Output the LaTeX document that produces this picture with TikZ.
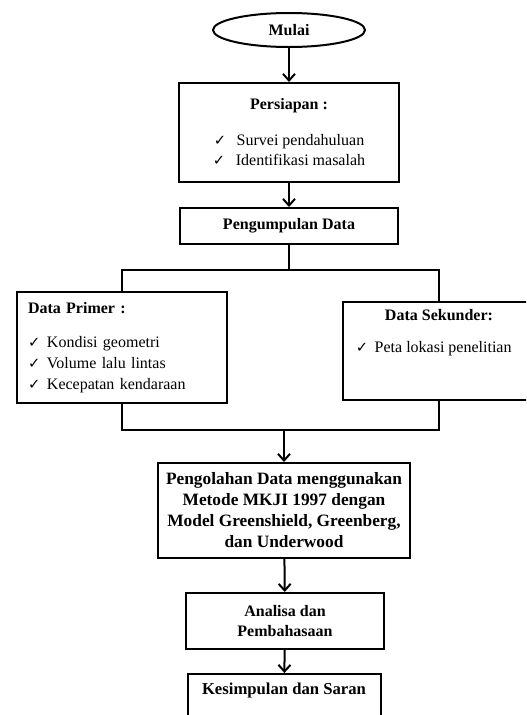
\documentclass[tikz,border=0pt]{standalone}
\usepackage{fontspec}
\setmainfont{Liberation Serif}
\newfontfamily\ckfont{DejaVu Sans}
\usetikzlibrary{shapes.geometric,arrows.meta}

\newcommand{\ck}{{\ckfont\fontsize{11}{11}\selectfont ✓}}

\tikzset{
    box/.style={draw, line width=1.5pt, align=center, inner sep=0pt,
        font=\fontsize{12}{15.5}\selectfont},
    con/.style={line width=1.5pt},
    arr/.style={line width=1.5pt, -{Straight Barb[length=5pt,width=9pt]}},
}

\begin{document}
\begin{tikzpicture}[x=0.75pt,y=-0.75pt]
        \useasboundingbox (0,0) rectangle (526,715);
        \clip (0,0) rectangle (526,715);

        \node[box, ellipse, minimum width=114pt, minimum height=25.5pt] (mulai) at (289,30) {\textbf{Mulai}};
        \node[box, minimum width=165pt, minimum height=74.25pt] (persiapan) at (289,132.5)
            {\textbf{Persiapan :}\\[11pt]
             \ck\hspace{8pt}Survei pendahuluan\\
             \ck\hspace{8pt}Identifikasi masalah};
        \node[box, minimum width=163.5pt, minimum height=27pt] (pengumpulan) at (289,226) {\textbf{Pengumpulan Data}};

        \node[box, align=left, text width=141pt, minimum width=157.5pt, minimum height=83.25pt] (primer) at (122,347.5)
            {\textbf{Data Primer :}\\[10pt]
             \ck\hspace{5pt}Kondisi geometri\\
             \ck\hspace{5pt}Volume lalu lintas\\
             \ck\hspace{5pt}Kecepatan kendaraan};
        \node[box, minimum width=144pt, minimum height=73.5pt] (sekunder) at (439,351)
            {\textbf{Data Sekunder:}\\[9pt]
             \hspace{-8pt}\ck\hspace{5pt}Peta lokasi penelitian\\[10pt]
             \strut};

        \node[box, font=\fontsize{13}{15.75}\selectfont, minimum width=189pt, minimum height=71.25pt] (olah) at (284,510.5)
            {\textbf{Pengolahan Data menggunakan}\\
             \textbf{Metode MKJI 1997 dengan}\\
             \textbf{Model Greenshield, Greenberg,}\\
             \textbf{dan Underwood}};
        \node[box, minimum width=148.5pt, minimum height=42pt] (analisa) at (285,621)
            {\textbf{Analisa dan}\\ \textbf{Pembahasaan}};
        \node[box, font=\fontsize{12.5}{15.5}\selectfont, anchor=north, minimum width=144.75pt, inner ysep=4pt, text height=11pt, text depth=24pt] (kesimpulan) at (284,673)
            {\textbf{Kesimpulan dan Saran}};

        % alur
        \coordinate (split) at (289,270);
        \coordinate (join) at (284,430);
        \draw[arr] (mulai) -- (persiapan);
        \draw[arr] (persiapan) -- (pengumpulan);
        \draw[con] (pengumpulan.south) -- (split);
        \draw[con] (primer.north) |- (split) -| (sekunder.north);
        \draw[con] (primer.south) |- (join) -| (sekunder.south);
        \draw[arr] (join) -- (olah.north);
        \draw[arr] (olah) -- (analisa);
        \draw[arr] (analisa) -- (kesimpulan);

    \end{tikzpicture}
\end{document}
